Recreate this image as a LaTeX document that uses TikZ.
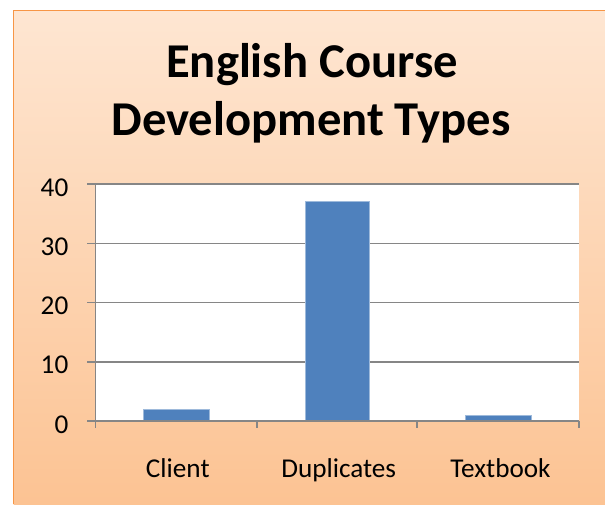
\documentclass[tikz,border=0pt]{standalone}
\usepackage{fontspec}
\setmainfont{Carlito}
\definecolor{framecol}{RGB}{247,150,70}
\definecolor{bgtop}{RGB}{254,230,210}
\definecolor{bgbot}{RGB}{252,195,147}
\definecolor{barcol}{RGB}{79,129,189}
\definecolor{gridcol}{RGB}{134,134,134}

\begin{document}
\begin{tikzpicture}[x=1pt,y=-1pt,
    gridline/.style={draw=gridcol, line width=1.5pt},
    barbox/.style={fill=barcol, draw=barcol!55!white, line width=0.7pt},
    axislab/.style={font=\fontsize{27.2}{30}\selectfont, inner sep=0pt},
    titlelab/.style={font=\fontsize{48.6}{58}\selectfont\bfseries, inner sep=0pt, anchor=base}]
    \useasboundingbox (0,0) rectangle (605,504);

    % Chart frame with soft gradient (runs past the right and bottom edge)
    \shade[top color=bgtop, bottom color=bgbot] (13.5,10.5) rectangle (605,504);
    \draw[framecol, line width=1.5pt] (605,10.5) -- (13.5,10.5) -- (13.5,504);

    % Title
    \node[titlelab] (title1) at (312,77) {English Course};
    \node[titlelab] (title2) at (311,135) {Development Types};

    % Plot area and grid
    \fill[white] (95.5,184) rectangle (579,421);
    \foreach \v in {10,20,30,40} {
        \draw[gridline] (95.5,{421-5.925*\v}) -- (579,{421-5.925*\v});
    }
    \foreach \v in {0,10,20,30,40} {
        \draw[gridline] (87,{421-5.925*\v}) -- (95.5,{421-5.925*\v});
        \node[axislab, anchor=east] (ylab\v) at (68.5,{424.5-5.925*\v}) {\v};
    }

    % Bars (known counts)
    \draw[barbox] (143.3,409.2) rectangle (209.3,421);
    \draw[barbox] (305.7,201.8) rectangle (369.3,421);
    \draw[barbox] (465.7,415.1) rectangle (531,421);

    % Axes
    \draw[gridline] (95.5,421) -- (579,421);
    \draw[gridline] (95.5,184) -- (95.5,428);
    \foreach \x in {257,417,579} {
        \draw[gridline] (\x,421) -- (\x,428);
    }

    % Category labels
    \node[axislab, anchor=base] (client) at (177.8,477.3) {Client};
    \node[axislab, anchor=base] (dupl) at (338.7,477.3) {Duplicates};
    \node[axislab, anchor=base] (textbook) at (500.5,477.3) {Textbook};
\end{tikzpicture}
\end{document}
